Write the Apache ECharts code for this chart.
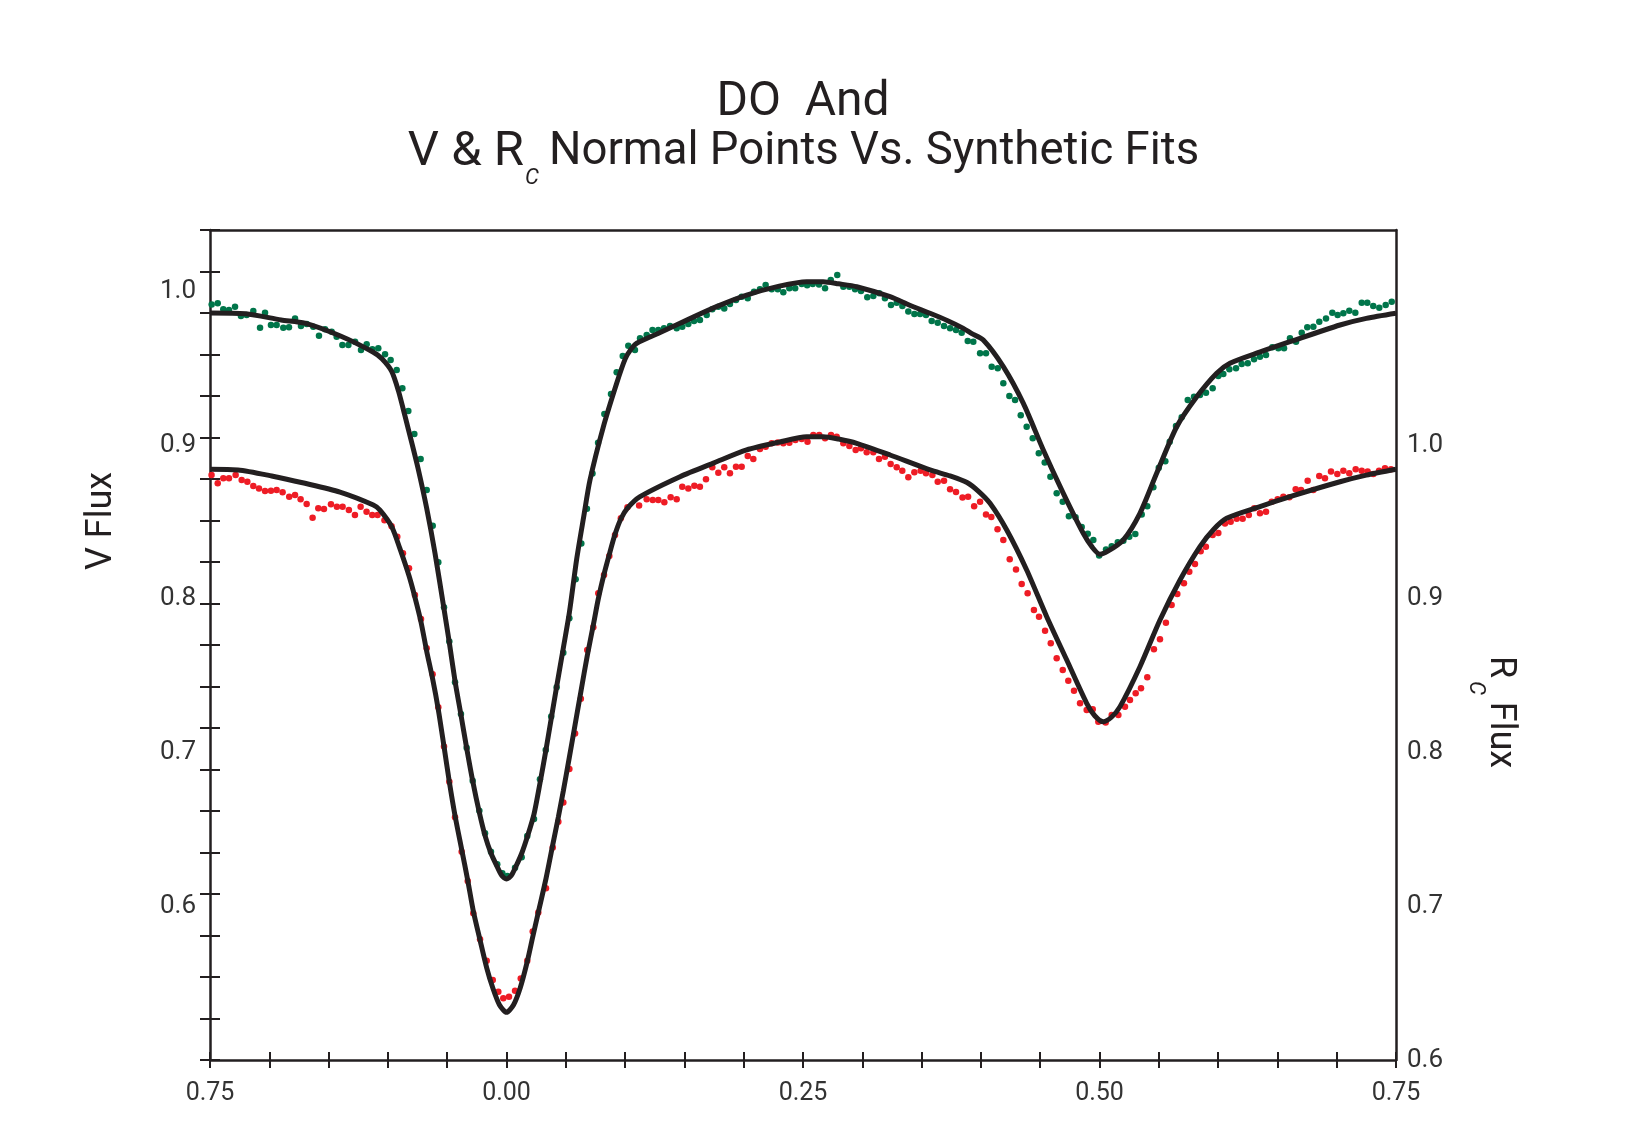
<!DOCTYPE html>
<html>
<head>
<meta charset="utf-8">
<title>DO And</title>
<script src="https://cdn.jsdelivr.net/npm/echarts/dist/echarts.min.js"></script>
<style>
  html, body { margin: 0; padding: 0; background: #fff; }
  #chart { width: 1633px; height: 1130px; }
</style>
</head>
<body>
<div id="chart"></div>
<script>
// V normal points [phase, flux]
const vPoints = [
  [-0.2486,0.9916],[-0.2435,0.9923],[-0.2388,0.9884],[-0.2340,0.9879],[-0.2289,0.9901],[-0.2239,0.9840],[-0.2191,0.9847],[-0.2135,0.9873],
  [-0.2078,0.9764],[-0.2036,0.9862],[-0.1986,0.9782],[-0.1938,0.9782],[-0.1882,0.9764],[-0.1834,0.9767],[-0.1783,0.9825],[-0.1733,0.9775],
  [-0.1685,0.9788],[-0.1629,0.9771],[-0.1581,0.9712],[-0.1530,0.9754],[-0.1474,0.9738],[-0.1432,0.9706],[-0.1384,0.9652],[-0.1333,0.9652],
  [-0.1277,0.9673],[-0.1227,0.9619],[-0.1179,0.9656],[-0.1131,0.9624],[-0.1081,0.9630],[-0.1024,0.9591],[-0.0977,0.9554],[-0.0926,0.9489],
  [-0.0878,0.9370],[-0.0828,0.9222],[-0.0777,0.9073],[-0.0724,0.8910],[-0.0673,0.8708],[-0.0622,0.8476],[-0.0575,0.8238],[-0.0527,0.7945],
  [-0.0482,0.7722],[-0.0434,0.7457],[-0.0384,0.7251],[-0.0336,0.7032],[-0.0285,0.6817],[-0.0229,0.6622],[-0.0181,0.6475],[-0.0131,0.6355],
  [-0.0078,0.6273],[-0.0035,0.6215],[0.0007,0.6197],[0.0072,0.6251],[0.0128,0.6319],[0.0175,0.6457],[0.0232,0.6568],[0.0282,0.6826],
  [0.0331,0.7017],[0.0377,0.7235],[0.0423,0.7425],[0.0479,0.7650],[0.0530,0.7874],[0.0583,0.8127],[0.0631,0.8360],[0.0678,0.8586],
  [0.0725,0.8815],[0.0772,0.9016],[0.0825,0.9203],[0.0881,0.9333],[0.0929,0.9474],[0.0980,0.9580],[0.1027,0.9647],[0.1083,0.9619],
  [0.1126,0.9695],[0.1182,0.9717],[0.1231,0.9749],[0.1280,0.9749],[0.1328,0.9760],[0.1379,0.9775],[0.1435,0.9760],[0.1482,0.9771],
  [0.1533,0.9788],[0.1581,0.9808],[0.1631,0.9814],[0.1688,0.9847],[0.1735,0.9884],[0.1786,0.9901],[0.1836,0.9890],[0.1884,0.9919],
  [0.1935,0.9945],[0.1983,0.9966],[0.2034,0.9956],[0.2087,0.9999],[0.2137,1.0014],[0.2185,1.0042],[0.2236,1.0014],[0.2287,1.0014],
  [0.2334,0.9995],[0.2385,1.0021],[0.2434,1.0021],[0.2489,1.0049],[0.2535,1.0040],[0.2582,1.0049],[0.2635,1.0045],[0.2686,1.0021],
  [0.2734,1.0075],[0.2789,1.0107],[0.2840,1.0031],[0.2891,1.0031],[0.2939,1.0014],[0.2989,1.0003],[0.3042,0.9962],[0.3093,0.9971],
  [0.3143,0.9988],[0.3191,0.9956],[0.3242,0.9912],[0.3290,0.9927],[0.3338,0.9906],[0.3388,0.9869],[0.3439,0.9854],[0.3487,0.9854],
  [0.3537,0.9847],[0.3585,0.9808],[0.3636,0.9797],[0.3689,0.9775],[0.3740,0.9760],[0.3790,0.9749],[0.3838,0.9732],[0.3889,0.9678],
  [0.3936,0.9673],[0.3993,0.9598],[0.4043,0.9598],[0.4091,0.9511],[0.4142,0.9500],[0.4189,0.9403],[0.4240,0.9320],[0.4288,0.9294],
  [0.4336,0.9194],[0.4386,0.9120],[0.4437,0.9045],[0.4488,0.8947],[0.4538,0.8888],[0.4586,0.8795],[0.4639,0.8687],[0.4690,0.8632],
  [0.4742,0.8537],[0.4798,0.8531],[0.4850,0.8468],[0.4901,0.8424],[0.4948,0.8383],[0.4997,0.8282],[0.5055,0.8322],[0.5103,0.8342],
  [0.5154,0.8368],[0.5201,0.8378],[0.5251,0.8404],[0.5302,0.8422],[0.5356,0.8549],[0.5403,0.8603],[0.5454,0.8727],[0.5500,0.8853],
  [0.5555,0.8896],[0.5592,0.9023],[0.5645,0.9125],[0.5693,0.9181],[0.5744,0.9294],[0.5797,0.9315],[0.5847,0.9326],[0.5898,0.9341],
  [0.5954,0.9370],[0.6002,0.9450],[0.6044,0.9463],[0.6095,0.9494],[0.6151,0.9500],[0.6199,0.9528],[0.6250,0.9533],[0.6303,0.9559],
  [0.6353,0.9576],[0.6404,0.9587],[0.6457,0.9637],[0.6508,0.9630],[0.6556,0.9630],[0.6606,0.9695],[0.6657,0.9673],[0.6705,0.9732],
  [0.6752,0.9767],[0.6803,0.9771],[0.6853,0.9803],[0.6910,0.9825],[0.6963,0.9862],[0.7008,0.9847],[0.7056,0.9858],[0.7106,0.9875],
  [0.7157,0.9862],[0.7211,0.9927],[0.7258,0.9927],[0.7308,0.9906],[0.7359,0.9894],[0.7413,0.9912],[0.7464,0.9933]
];

// Rc normal points [phase, flux]
const rPoints = [
  [-0.2487,0.9806],[-0.2435,0.9752],[-0.2388,0.9785],[-0.2340,0.9785],[-0.2284,0.9806],[-0.2233,0.9773],[-0.2185,0.9762],[-0.2135,0.9734],
  [-0.2087,0.9719],[-0.2036,0.9702],[-0.1986,0.9704],[-0.1938,0.9708],[-0.1888,0.9693],[-0.1832,0.9665],[-0.1783,0.9676],[-0.1736,0.9648],
  [-0.1685,0.9617],[-0.1635,0.9528],[-0.1587,0.9589],[-0.1539,0.9585],[-0.1480,0.9615],[-0.1430,0.9600],[-0.1382,0.9600],[-0.1329,0.9578],
  [-0.1278,0.9546],[-0.1230,0.9600],[-0.1180,0.9567],[-0.1132,0.9546],[-0.1087,0.9546],[-0.1029,0.9512],[-0.0969,0.9472],[-0.0921,0.9405],
  [-0.0873,0.9297],[-0.0822,0.9199],[-0.0772,0.9025],[-0.0721,0.8869],[-0.0673,0.8679],[-0.0623,0.8509],[-0.0575,0.8295],[-0.0527,0.8040],
  [-0.0482,0.7811],[-0.0434,0.7579],[-0.0378,0.7355],[-0.0327,0.7164],[-0.0280,0.6954],[-0.0223,0.6785],[-0.0167,0.6646],[-0.0116,0.6520],
  [-0.0069,0.6444],[-0.0027,0.6401],[0.0021,0.6412],[0.0072,0.6451],[0.0120,0.6531],[0.0175,0.6646],[0.0221,0.6836],[0.0268,0.6959],
  [0.0333,0.7118],[0.0390,0.7382],[0.0437,0.7550],[0.0479,0.7675],[0.0530,0.7893],[0.0578,0.8125],[0.0627,0.8350],[0.0681,0.8667],
  [0.0732,0.8815],[0.0774,0.9036],[0.0822,0.9155],[0.0867,0.9279],[0.0915,0.9416],[0.0964,0.9524],[0.1020,0.9596],[0.1118,0.9607],
  [0.1182,0.9648],[0.1233,0.9643],[0.1280,0.9643],[0.1331,0.9628],[0.1384,0.9661],[0.1435,0.9648],[0.1482,0.9730],[0.1533,0.9719],
  [0.1584,0.9736],[0.1631,0.9730],[0.1682,0.9778],[0.1735,0.9856],[0.1786,0.9821],[0.1836,0.9856],[0.1884,0.9817],[0.1935,0.9860],
  [0.1983,0.9860],[0.2034,0.9930],[0.2081,0.9910],[0.2137,0.9975],[0.2185,0.9990],[0.2236,1.0012],[0.2287,1.0018],[0.2334,1.0012],
  [0.2385,1.0016],[0.2436,1.0034],[0.2489,1.0040],[0.2538,1.0023],[0.2587,1.0066],[0.2637,1.0066],[0.2686,1.0045],[0.2736,1.0066],
  [0.2784,1.0055],[0.2840,1.0012],[0.2891,0.9995],[0.2944,0.9969],[0.2989,0.9980],[0.3037,0.9954],[0.3093,0.9954],[0.3141,0.9910],
  [0.3191,0.9925],[0.3239,0.9878],[0.3290,0.9856],[0.3337,0.9834],[0.3388,0.9791],[0.3439,0.9824],[0.3492,0.9834],[0.3537,0.9817],
  [0.3591,0.9806],[0.3636,0.9762],[0.3689,0.9769],[0.3740,0.9713],[0.3790,0.9695],[0.3845,0.9660],[0.3892,0.9665],[0.3943,0.9602],
  [0.3993,0.9632],[0.4043,0.9549],[0.4088,0.9532],[0.4140,0.9453],[0.4189,0.9383],[0.4243,0.9258],[0.4296,0.9192],[0.4344,0.9097],
  [0.4394,0.9036],[0.4447,0.8928],[0.4490,0.8884],[0.4541,0.8793],[0.4589,0.8711],[0.4639,0.8613],[0.4690,0.8537],[0.4737,0.8468],
  [0.4785,0.8403],[0.4836,0.8321],[0.4892,0.8277],[0.4943,0.8282],[0.4990,0.8201],[0.5052,0.8195],[0.5103,0.8245],[0.5159,0.8245],
  [0.5215,0.8299],[0.5257,0.8342],[0.5305,0.8386],[0.5350,0.8418],[0.5403,0.8490],[0.5459,0.8672],[0.5510,0.8737],[0.5560,0.8845],
  [0.5608,0.8960],[0.5656,0.9032],[0.5712,0.9101],[0.5757,0.9177],[0.5805,0.9227],[0.5853,0.9310],[0.5897,0.9340],[0.5954,0.9416],
  [0.6002,0.9429],[0.6058,0.9490],[0.6106,0.9502],[0.6157,0.9521],[0.6207,0.9521],[0.6259,0.9546],[0.6305,0.9589],[0.6353,0.9557],
  [0.6404,0.9567],[0.6452,0.9632],[0.6502,0.9648],[0.6550,0.9665],[0.6601,0.9661],[0.6654,0.9713],[0.6699,0.9708],[0.6755,0.9769],
  [0.6803,0.9708],[0.6853,0.9800],[0.6901,0.9785],[0.6952,0.9828],[0.7005,0.9813],[0.7056,0.9834],[0.7106,0.9817],[0.7160,0.9843],
  [0.7211,0.9834],[0.7261,0.9828],[0.7309,0.9813],[0.7357,0.9834],[0.7407,0.9850],[0.7458,0.9843]
];

// synthetic fits [phase, flux]
const vFit = [
  [-0.25,0.9860],[-0.22,0.9855],[-0.19,0.9815],[-0.17,0.9794],[-0.14,0.9710],[-0.1126,0.9606],[-0.105,0.9562],[-0.0968,0.9480],
  [-0.091,0.9350],[-0.0856,0.9190],[-0.080,0.9020],[-0.0746,0.8850],[-0.0673,0.8590],[-0.0603,0.8298],[-0.0527,0.7935],[-0.0482,0.7715],
  [-0.0434,0.7465],[-0.0384,0.7245],[-0.0336,0.7030],[-0.0285,0.6815],[-0.0229,0.6610],[-0.0181,0.6460],[-0.0131,0.6345],[-0.0083,0.6265],
  [-0.004,0.6200],[0.0,0.6178],[0.004,0.6200],[0.0083,0.6265],[0.0131,0.6350],[0.0181,0.6465],[0.0232,0.6600],[0.0282,0.6800],
  [0.0331,0.7010],[0.0377,0.7220],[0.0423,0.7430],[0.0479,0.7680],[0.0530,0.7910],[0.0592,0.8260],[0.0650,0.8530],[0.0704,0.8773],
  [0.0816,0.9118],[0.0929,0.9403],[0.1000,0.9560],[0.1050,0.9625],[0.1098,0.9663],[0.1300,0.9735],[0.1463,0.9793],[0.1750,0.9895],
  [0.2025,0.9977],[0.2300,1.0035],[0.2531,1.0064],[0.2670,1.0064],[0.2800,1.0050],[0.2953,1.0031],[0.3234,0.9966],[0.3400,0.9910],
  [0.3571,0.9858],[0.3720,0.9810],[0.3852,0.9760],[0.3920,0.9728],[0.4020,0.9684],[0.4189,0.9511],[0.4358,0.9272],[0.4526,0.8969],
  [0.4695,0.8687],[0.4863,0.8427],[0.4940,0.8335],[0.5004,0.8290],[0.5070,0.8310],[0.5200,0.8383],[0.5341,0.8557],[0.5482,0.8817],
  [0.5651,0.9120],[0.5820,0.9315],[0.5988,0.9468],[0.6100,0.9533],[0.6350,0.9605],[0.6606,0.9673],[0.7028,0.9782],[0.7250,0.9825],
  [0.7500,0.9858]
];
const rFit = [
  [-0.25,0.9843],[-0.2264,0.9839],[-0.198,0.9800],[-0.1699,0.9752],[-0.1404,0.9695],[-0.1123,0.9611],[-0.1067,0.9578],[-0.0968,0.9470],
  [-0.090,0.9330],[-0.0822,0.9150],[-0.0772,0.9010],[-0.0721,0.8850],[-0.0673,0.8660],[-0.0623,0.8480],[-0.0575,0.8280],[-0.0527,0.8040],
  [-0.0482,0.7810],[-0.0434,0.7590],[-0.0378,0.7370],[-0.0327,0.7170],[-0.0280,0.6970],[-0.0223,0.6780],[-0.0167,0.6600],[-0.0116,0.6470],
  [-0.006,0.6360],[0.0,0.6310],[0.006,0.6360],[0.0116,0.6470],[0.0175,0.6640],[0.0221,0.6800],[0.0268,0.6960],[0.0333,0.7180],
  [0.0390,0.7400],[0.0437,0.7580],[0.0479,0.7750],[0.0530,0.7970],[0.0578,0.8180],[0.0628,0.8400],[0.0681,0.8630],[0.0732,0.8830],
  [0.0774,0.9000],[0.0822,0.9160],[0.0867,0.9290],[0.0915,0.9420],[0.0964,0.9520],[0.1020,0.9590],[0.1126,0.9665],[0.1463,0.9795],
  [0.1750,0.9885],[0.2025,0.9969],[0.2300,1.0020],[0.2531,1.0055],[0.2671,1.0055],[0.2800,1.0040],[0.2953,1.0012],[0.3234,0.9936],
  [0.3571,0.9839],[0.3740,0.9800],[0.3883,0.9757],[0.3980,0.9700],[0.4077,0.9622],[0.4218,0.9448],[0.4386,0.9188],[0.4555,0.8884],
  [0.4724,0.8602],[0.4892,0.8321],[0.4960,0.8240],[0.5032,0.8201],[0.5100,0.8230],[0.5173,0.8299],[0.5341,0.8559],[0.5510,0.8863],
  [0.5679,0.9123],[0.5847,0.9340],[0.5960,0.9450],[0.6072,0.9524],[0.6353,0.9600],[0.6606,0.9665],[0.7028,0.9762],[0.7250,0.9805],
  [0.7500,0.9843]
];

// tick labels
const xLabelValues = [-0.25, 0, 0.25, 0.5, 0.75];
const xLabelTexts = ["0.75", "0.00", "0.25", "0.50", "0.75"];
const leftLabelValues = [0.6, 0.7, 0.8, 0.9, 1.0];
const rightLabelValues = [0.6, 0.7, 0.8, 0.9, 1.0];

const ink = "#231f20";
const font = "Roboto";

function pickLabel(values, v) {
  for (let i = 0; i < values.length; i++) {
    if (Math.abs(values[i] - v) < 1e-6) return i;
  }
  return -1;
}

const myChart = echarts.init(document.getElementById("chart"));

// ticks only axes, laid on a second grid
const tickAxis = (pos, len) => ({
  type: "value",
  gridIndex: 1,
  position: pos,
  min: 0,
  max: 20,
  interval: 1,
  axisLine: { show: false },
  axisLabel: { show: false },
  splitLine: { show: false },
  axisTick: { show: true, inside: true, length: len, lineStyle: { color: ink, width: 2 } },
});

myChart.setOption({
  animation: false,
  backgroundColor: "#fff",
  grid: [
    { left: 210, right: 237, top: 230, bottom: 70 },
    { left: 210, right: 237, top: 230, bottom: 70 },
  ],
  xAxis: [
    {
      type: "value",
      gridIndex: 0,
      position: "bottom",
      min: -0.25,
      max: 0.75,
      interval: 0.25,
      axisLine: { show: true, onZero: false, lineStyle: { color: ink, width: 2.5 } },
      axisTick: { show: false },
      splitLine: { show: false },
      axisLabel: {
        margin: 21,
        fontFamily: font,
        fontSize: 25,
        color: "#333",
        formatter: (v) => {
          const i = pickLabel(xLabelValues, v);
          return i < 0 ? "" : xLabelTexts[i];
        },
      },
    },
    {
      type: "value",
      gridIndex: 0,
      position: "top",
      min: -0.25,
      max: 0.75,
      axisLine: { show: true, onZero: false, lineStyle: { color: ink, width: 2.5 } },
      axisTick: { show: false },
      axisLabel: { show: false },
      splitLine: { show: false },
    },
    tickAxis("bottom", 8),
    tickAxis("top", 8),
  ],
  yAxis: [
    {
      type: "value",
      gridIndex: 0,
      position: "left",
      min: 0.5,
      max: 1.04,
      interval: 0.1,
      axisLine: { show: true, onZero: false, lineStyle: { color: ink, width: 2.5 } },
      axisTick: { show: false },
      splitLine: { show: false },
      axisLabel: {
        margin: 14,
        fontFamily: font,
        fontSize: 26,
        color: "#333",
        formatter: (v) => (pickLabel(leftLabelValues, v) < 0 ? "" : v.toFixed(1)),
      },
    },
    {
      type: "value",
      gridIndex: 0,
      position: "right",
      min: 0.6,
      max: 1.14,
      interval: 0.1,
      axisLine: { show: true, onZero: false, lineStyle: { color: ink, width: 2.5 } },
      axisTick: { show: false },
      splitLine: { show: false },
      axisLabel: {
        margin: 11,
        fontFamily: font,
        fontSize: 26,
        color: "#333",
        formatter: (v) => (pickLabel(rightLabelValues, v) < 0 ? "" : v.toFixed(1)),
      },
    },
    tickAxis("left", 10),
    tickAxis("right", 10),
  ],
  graphic: [
    // title
    { type: "text", x: 803, y: 103, style: { text: "DO  And", font: "48px " + font, fill: ink, align: "center", verticalAlign: "middle" } },
    { type: "text", x: 524, y: 153, style: { text: "V & R", font: "49px " + font, fill: ink, align: "right", verticalAlign: "middle" } },
    { type: "text", x: 532, y: 178, style: { text: "C", font: "italic 22px " + font, fill: ink, align: "center", verticalAlign: "middle" } },
    { type: "text", x: 549, y: 153, style: { text: "Normal Points Vs. Synthetic Fits", font: "45.5px " + font, fill: ink, align: "left", verticalAlign: "middle" } },
    // axis names
    { type: "text", x: 102, y: 521, rotation: Math.PI / 2, style: { text: "V Flux", font: "36px " + font, fill: ink, align: "center", verticalAlign: "middle" } },
    { type: "text", x: 1500, y: 667, rotation: -Math.PI / 2, style: { text: "R", font: "36px " + font, fill: ink, align: "center", verticalAlign: "middle" } },
    { type: "text", x: 1475, y: 688, rotation: -Math.PI / 2, style: { text: "C", font: "italic 22px " + font, fill: ink, align: "center", verticalAlign: "middle" } },
    { type: "text", x: 1500, y: 735, rotation: -Math.PI / 2, style: { text: "Flux", font: "36px " + font, fill: ink, align: "center", verticalAlign: "middle" } },
  ],
  series: [
    {
      name: "V",
      type: "scatter",
      xAxisIndex: 0,
      yAxisIndex: 0,
      data: vPoints,
      symbolSize: 6.5,
      itemStyle: { color: "#00754a", opacity: 1 },
      z: 2,
    },
    {
      name: "Rc",
      type: "scatter",
      xAxisIndex: 0,
      yAxisIndex: 1,
      data: rPoints,
      symbolSize: 6.5,
      itemStyle: { color: "#ee1c25", opacity: 1 },
      z: 2,
    },
    {
      name: "V fit",
      type: "line",
      xAxisIndex: 0,
      yAxisIndex: 0,
      data: vFit,
      showSymbol: false,
      smooth: 0.25,
      lineStyle: { color: ink, width: 5 },
      z: 3,
    },
    {
      name: "Rc fit",
      type: "line",
      xAxisIndex: 0,
      yAxisIndex: 1,
      data: rFit,
      showSymbol: false,
      smooth: 0.25,
      lineStyle: { color: ink, width: 5 },
      z: 3,
    },
  ],
});
</script>
</body>
</html>
